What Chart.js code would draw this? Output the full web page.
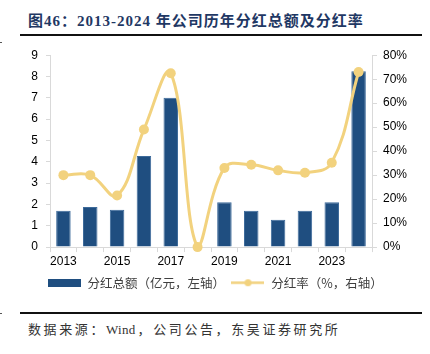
<!DOCTYPE html>
<html>
<head>
<meta charset="utf-8">
<script src="https://cdn.jsdelivr.net/npm/chart.js@4.4.1/dist/chart.umd.min.js"></script>
<style>
    html, body { margin: 0; padding: 0; background: #fff; }
    body { width: 430px; height: 354px; position: relative; overflow: hidden; }
    .title {
        position: absolute; left: 28px; top: 9px;
        font-family: "Liberation Serif", "Noto Sans CJK SC", serif;
        font-weight: bold; font-size: 15px; letter-spacing: 1px;
        color: #1f3864; white-space: nowrap;
    }
    .rule { position: absolute; left: 20px; width: 402px; height: 2px; background: #111; }
    .mark { position: absolute; left: 0; width: 2px; height: 1px; background: #555; }
    .source {
        position: absolute; left: 28px; top: 319px;
        font-family: "Liberation Serif", "Noto Sans CJK SC", serif;
        font-size: 13px; letter-spacing: 2.6px; color: #333; white-space: nowrap;
    }
    .source .latin { letter-spacing: 0.3px; margin-right: 2px; }
    .chart-box { position: absolute; left: 0; top: 40px; width: 430px; height: 262px; }
</style>
</head>
<body>
<div class="title">图46：2013-2024 年公司历年分红总额及分红率</div>
<div class="rule" style="top:34px"></div>
<div class="mark" style="top:42px"></div>
<div class="chart-box"><canvas id="dividendChart"></canvas></div>
<div class="rule" style="top:312px"></div>
<div class="mark" style="top:313px"></div>
<div class="source">数据来源：<span class="latin">Wind</span>，公司公告，东吴证券研究所</div>

<script>
// Data
const years = ['2013', '2014', '2015', '2016', '2017', '2018', '2019', '2020', '2021', '2022', '2023', '2024'];
const dividendTotal = [1.7, 1.88, 1.75, 4.27, 7.0, 0, 2.1, 1.7, 1.28, 1.7, 2.1, 8.25];   // 亿元
const payoutRatio = [30, 30, 21.5, 49, 72.5, 0, 33, 34.3, 32, 31, 35.2, 73];            // %
const leftTicks = [0, 1, 2, 3, 4, 5, 6, 7, 8, 9];
const rightTicks = [0, 10, 20, 30, 40, 50, 60, 70, 80];

const barColor = '#1f4e80';
const lineColor = '#f2d27e';
const axisColor = '#d9d9d9';

document.addEventListener('DOMContentLoaded', function() {
    initializeChart();
});

/**
 * Small legend swatches drawn on canvases
 */
function makeBarSwatch() {
    const c = document.createElement('canvas');
    c.width = 33; c.height = 8;
    const ctx = c.getContext('2d');
    ctx.fillStyle = barColor;
    ctx.fillRect(0, 0, 33, 8);
    return c;
}

function makeLineSwatch() {
    const c = document.createElement('canvas');
    c.width = 33; c.height = 9;
    const ctx = c.getContext('2d');
    ctx.strokeStyle = lineColor;
    ctx.lineWidth = 2.5;
    ctx.beginPath();
    ctx.moveTo(0, 4.5);
    ctx.lineTo(33, 4.5);
    ctx.stroke();
    ctx.fillStyle = lineColor;
    ctx.beginPath();
    ctx.arc(16.5, 4.5, 3.5, 0, Math.PI * 2);
    ctx.fill();
    return c;
}

function initializeChart() {
    const ctx = document.getElementById('dividendChart').getContext('2d');
    const barSwatch = makeBarSwatch();
    const lineSwatch = makeLineSwatch();

    new Chart(ctx, {
        data: {
            labels: years,
            datasets: [
                {
                    type: 'line',
                    label: '分红率（%，右轴）',
                    data: payoutRatio,
                    yAxisID: 'yRight',
                    borderColor: lineColor,
                    backgroundColor: lineColor,
                    borderWidth: 3,
                    tension: 0.4,
                    pointRadius: 5,
                    pointHoverRadius: 5,
                    pointBorderWidth: 0,
                    clip: false,
                    order: 0
                },
                {
                    type: 'bar',
                    label: '分红总额（亿元，左轴）',
                    data: dividendTotal,
                    yAxisID: 'yLeft',
                    backgroundColor: barColor,
                    borderColor: '#3d6a9a',
                    borderWidth: 1,
                    barPercentage: 0.54,
                    categoryPercentage: 1,
                    order: 1
                }
            ]
        },
        options: {
            responsive: true,
            maintainAspectRatio: false,
            animation: false,
            layout: { padding: { top: 9, left: 0, right: 0, bottom: 3 } },
            plugins: {
                tooltip: { enabled: false },
                legend: {
                    position: 'bottom',
                    reverse: true,
                    labels: {
                        usePointStyle: true,
                        pointStyleWidth: 34,
                        padding: 6,
                        color: '#404040',
                        font: { family: '"Noto Sans CJK SC", sans-serif', size: 12.5 },
                        generateLabels: function(chart) {
                            return chart.data.datasets.map((ds, i) => ({
                                text: ds.label,
                                pointStyle: ds.type === 'bar' ? barSwatch : lineSwatch,
                                fillStyle: ds.backgroundColor,
                                strokeStyle: ds.backgroundColor,
                                lineWidth: 0,
                                fontColor: '#404040',
                                datasetIndex: i,
                                hidden: false
                            }));
                        }
                    }
                }
            },
            scales: {
                x: {
                    offset: true,
                    grid: {
                        display: true,
                        offset: true,
                        drawOnChartArea: false,
                        color: axisColor,
                        tickLength: 5
                    },
                    border: { color: axisColor, width: 1 },
                    ticks: {
                        autoSkip: false,
                        maxRotation: 0,
                        padding: 2,
                        color: '#000',
                        font: { family: '"Liberation Sans", Arial, sans-serif', size: 12 },
                        callback: function(value, index) {
                            return index % 2 === 0 ? years[index] : '';
                        }
                    }
                },
                yLeft: {
                    position: 'left',
                    min: 0,
                    max: 9,
                    afterBuildTicks: function(scale) {
                        scale.ticks = leftTicks.map(v => ({ value: v }));
                    },
                    afterFit: function(scale) { scale.width = 50; },
                    grid: {
                        display: true,
                        drawOnChartArea: false,
                        color: axisColor,
                        tickLength: 4
                    },
                    border: { color: axisColor, width: 1 },
                    ticks: {
                        padding: 8,
                        color: '#000',
                        font: { family: '"Liberation Sans", Arial, sans-serif', size: 12 }
                    }
                },
                yRight: {
                    position: 'right',
                    min: 0,
                    max: 80,
                    afterBuildTicks: function(scale) {
                        scale.ticks = rightTicks.map(v => ({ value: v }));
                    },
                    afterFit: function(scale) { scale.width = 58; },
                    grid: {
                        display: true,
                        drawOnChartArea: false,
                        color: axisColor,
                        tickLength: 5
                    },
                    border: { color: axisColor, width: 1 },
                    ticks: {
                        padding: 6,
                        color: '#000',
                        font: { family: '"Liberation Sans", Arial, sans-serif', size: 12 },
                        callback: function(value) { return value + '%'; }
                    }
                }
            }
        }
    });
}
</script>
</body>
</html>
